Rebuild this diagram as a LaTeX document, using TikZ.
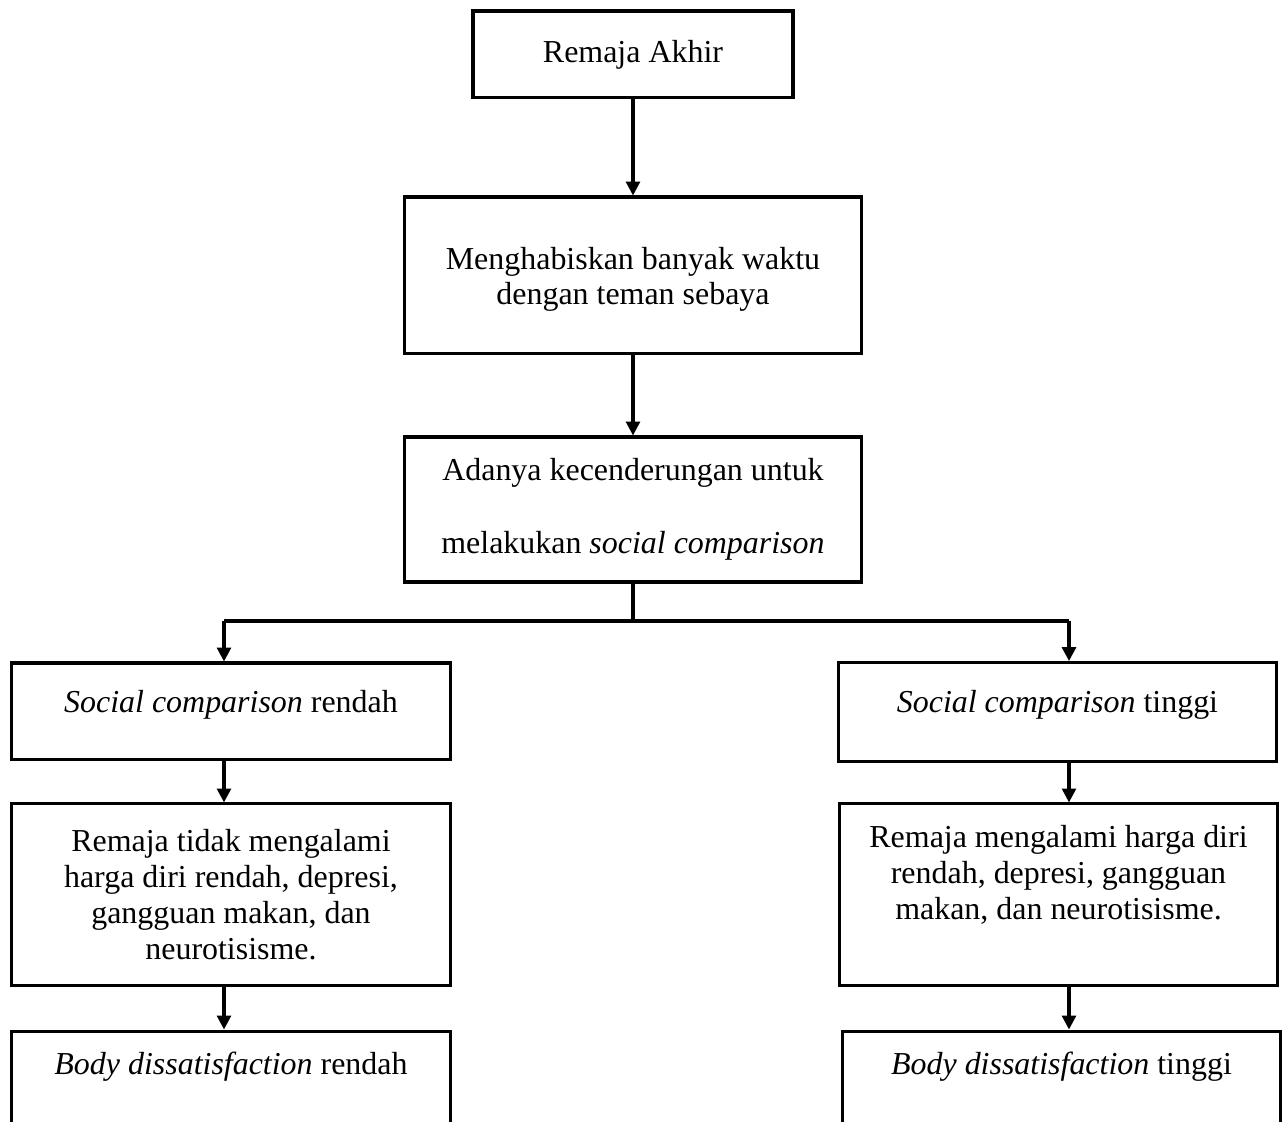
\documentclass[tikz,border=0pt]{standalone}
\usepackage{fontspec}
\setmainfont{Liberation Serif}
\usepackage{tikz}
\usetikzlibrary{
  arrows.meta,
  positioning,
}

\begin{document}
\begin{tikzpicture}[
  x=0.36pt, y=-0.36pt,
  every node/.style={font=\fontsize{11.5}{13}\selectfont},
  kotak/.style={
    rectangle, draw, line width=1.1pt,
    inner sep=0pt, align=center,
  },
  atas/.style={kotak, minimum width=115.2pt, minimum height=31.3pt},
  tengah/.style={kotak, minimum width=164.2pt},
  sisi/.style={kotak, minimum width=157.8pt},
  panah/.style={line width=1.1pt, -{Triangle[length=5pt, width=5pt]}},
  garis/.style={line width=1.1pt},
]
  \path[use as bounding box, clip] (0,0) rectangle (1282,1122);

  \node[atas] (b1) at (633,54.5) {Remaja Akhir};
  \node[tengah, minimum height=56.5pt, text depth=0pt] (b2) at (633,275.5)
    {Menghabiskan banyak waktu\\[-0.4pt]dengan teman sebaya};
  \node[tengah, minimum height=52.2pt] (b3) at (633,509.5)
    {Adanya kecenderungan untuk\\[13.2pt]melakukan \textit{social comparison}};

  % Left branch
  \node[sisi, minimum height=34.9pt, text depth=7.5pt] (b4l) at (231,711.5)
    {\textit{Social comparison} rendah};
  \node[sisi, minimum height=65.2pt] (b5l) at (231,894.5)
    {Remaja tidak mengalami\\harga diri rendah, depresi,\\gangguan makan, dan\\neurotisisme.};
  \node[sisi, minimum height=34.9pt, text depth=12pt] (b6l) at (231,1079.5)
    {\textit{Body dissatisfaction} rendah};

  % Right branch
  \node[sisi, minimum height=35.6pt, text depth=7.5pt] (b4r) at (1057.5,712)
    {\textit{Social comparison} tinggi};
  \node[sisi, minimum height=65.2pt, text depth=16pt] (b5r) at (1058.5,894.5)
    {Remaja mengalami harga diri\\rendah, depresi, gangguan\\makan, dan neurotisisme.};
  \node[sisi, minimum height=34.9pt, text depth=12pt] (b6r) at (1061.5,1079.5)
    {\textit{Body dissatisfaction} tinggi};

  % Connectors
  \coordinate (cabang) at (633,621);
  \coordinate (kiri) at (224,621);
  \coordinate (kanan) at (1069,621);

  \draw[panah] (b1.south) -- (b2.north);
  \draw[panah] (b2.south) -- (b3.north);
  \draw[garis] (b3.south) -- (cabang);
  \draw[garis] (kiri) -- (kanan);
  \draw[panah] (kiri) -- (kiri |- b4l.north);
  \draw[panah] (kanan) -- (kanan |- b4r.north);
  \draw[panah] (kiri |- b4l.south) -- (kiri |- b5l.north);
  \draw[panah] (kiri |- b5l.south) -- (kiri |- b6l.north);
  \draw[panah] (kanan |- b4r.south) -- (kanan |- b5r.north);
  \draw[panah] (kanan |- b5r.south) -- (kanan |- b6r.north);

\end{tikzpicture}
\end{document}
